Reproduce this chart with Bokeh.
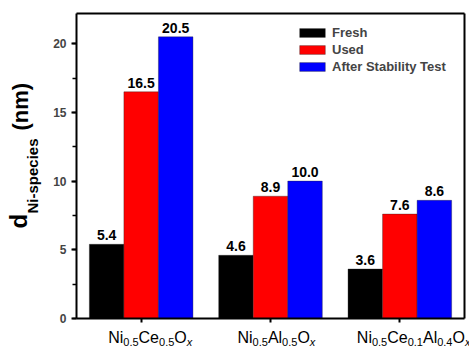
import math
from bokeh.plotting import figure
from bokeh.models import (ColumnDataSource, Range1d, Legend, LegendItem, Label,
                          SingleIntervalTicker, FixedTicker, LinearAxis)
from bokeh.transform import dodge
from bokeh.core.properties import value
from bokeh.embed import file_html
from bokeh.resources import INLINE

# ---- data ----
categories = [1, 2, 3]
formulas = [
    [("Ni", "0.5"), ("Ce", "0.5"), ("O", "x")],
    [("Ni", "0.5"), ("Al", "0.5"), ("O", "x")],
    [("Ni", "0.5"), ("Ce", "0.1"), ("Al", "0.4"), ("O", "x")],
]
fresh = [5.4, 4.6, 3.6]
used = [16.5, 8.9, 7.6]
after = [20.5, 10.0, 8.6]
series_names = ["Fresh", "Used", "After Stability Test"]

FONT = "Liberation Sans"

# axes box (data) and its place on the canvas (pixels)
X0, X1, Y0, Y1 = 0.5, 3.5, 0.0, 22.2
W_, H_ = 469, 346
L, R, T, B = 76, 464, 13, 318
sx = (R - L) / (X1 - X0)
sy = (B - T) / (Y1 - Y0)

src = ColumnDataSource(dict(
    x=categories, fresh=fresh, used=used, after=after,
    fresh_t=[f"{v:.1f}" for v in fresh],
    used_t=[f"{v:.1f}" for v in used],
    after_t=[f"{v:.1f}" for v in after],
))

p = figure(width=W_, height=H_,
           x_range=Range1d(X0 - L / sx, X1 + (W_ - R) / sx),
           y_range=Range1d(Y0 - (H_ - B) / sy, Y1 + T / sy),
           output_backend="svg", toolbar_location=None,
           min_border=0, min_border_left=0, min_border_right=0,
           min_border_top=0, min_border_bottom=0,
           x_axis_type=None, y_axis_type=None)
p.xgrid.visible = False
p.ygrid.visible = False
p.outline_line_color = None
p.background_fill_color = "white"
p.border_fill_color = "white"

bw = 0.267
cols = ["black", "#ff0000", "#0000ff"]
keys = ["fresh", "used", "after"]
offs = [-bw, 0.0, bw]
rends = []
for k, c, o in zip(keys, cols, offs):
    r = p.vbar(x=dodge("x", o, range=p.x_range), top=k, width=bw, bottom=0, source=src,
               fill_color=c, line_color="#222222", line_width=0.6, line_alpha=0.6)
    rends.append(r)
    p.text(x=dodge("x", o, range=p.x_range), y=k, text=k + "_t", source=src,
           text_align="center", text_baseline="alphabetic", y_offset=-9,
           text_font=value(FONT), text_font_style="bold", text_font_size="14px",
           text_color="black")

# y axis (left)
ya = LinearAxis(fixed_location=X0, bounds=(Y0, Y1),
                ticker=SingleIntervalTicker(interval=5, num_minor_ticks=2))
ya.major_tick_in = 0
ya.major_tick_out = 5
ya.minor_tick_in = 0
ya.minor_tick_out = 4
ya.axis_line_width = 2
ya.major_tick_line_width = 2
ya.minor_tick_line_width = 1.5
ya.major_label_text_font = FONT
ya.major_label_text_font_style = "bold"
ya.major_label_text_font_size = "12px"
ya.major_label_standoff = 5
p.add_layout(ya, "left")

# x axis (bottom)
xa = LinearAxis(fixed_location=Y0, bounds=(X0, X1), ticker=FixedTicker(ticks=categories))
xa.major_tick_in = 0
xa.major_tick_out = 4
xa.minor_tick_out = 0
xa.axis_line_width = 2
xa.major_tick_line_width = 2
xa.major_label_text_color = None
xa.major_label_text_font_size = "1px"
p.add_layout(xa, "below")

# box: top and right
ta = LinearAxis(fixed_location=Y1, bounds=(X0, X1), ticker=FixedTicker(ticks=[]))
ta.axis_line_width = 2
ta.major_label_text_color = None
p.add_layout(ta, "above")
ra = LinearAxis(fixed_location=X1, bounds=(Y0, Y1), ticker=FixedTicker(ticks=[]))
ra.axis_line_width = 2
ra.major_label_text_color = None
p.add_layout(ra, "right")

# custom x tick labels with subscripts
W = {"N": 722, "i": 222, "C": 722, "e": 556, "O": 778, "A": 667, "l": 222,
     "0": 556, "1": 556, "4": 556, "5": 556, ".": 278, "x": 500}
MAIN, SUB = 16, 11
starts = [-33, -33, -43]
for cx, form, st in zip(categories, formulas, starts):
    xo = st
    for el, sub in form:
        p.add_layout(Label(x=cx, y=Y0, x_offset=xo, y_offset=-19,
                           text=el, text_font=FONT, text_font_size=f"{MAIN}px",
                           text_baseline="alphabetic", text_align="left", text_color="black"))
        xo += sum(W[ch] for ch in el) / 1000 * MAIN
        p.add_layout(Label(x=cx, y=Y0, x_offset=xo, y_offset=-23,
                           text=sub, text_font=FONT, text_font_size=f"{SUB}px",
                           text_font_style="italic" if sub == "x" else "normal",
                           text_baseline="alphabetic", text_align="left", text_color="black"))
        xo += sum(W[ch] for ch in sub) / 1000 * SUB

# y axis title (rotated): d_{Ni-species} (nm)
for txt, xo, yo, fs in [("d", -58, 90, "24px"), ("Ni-species", -44, 105, "15px"),
                        ("(nm)", -56, 188, "22px")]:
    p.add_layout(Label(x=X0, y=Y0, x_offset=xo, y_offset=yo,
                       text=txt, angle=math.pi / 2, text_font=FONT, text_font_style="bold",
                       text_font_size=fs, text_align="left", text_baseline="alphabetic",
                       text_color="black"))

legend = Legend(items=[LegendItem(label=n, renderers=[r]) for n, r in zip(series_names, rends)],
                location=(296, 272), glyph_width=32, glyph_height=11, label_height=11,
                spacing=2, label_standoff=4, padding=0, margin=0,
                label_text_font=FONT, label_text_font_style="bold", label_text_font_size="13px",
                border_line_color=None, background_fill_alpha=0)
p.add_layout(legend)

open("out.html", "w").write(file_html(p, INLINE))
